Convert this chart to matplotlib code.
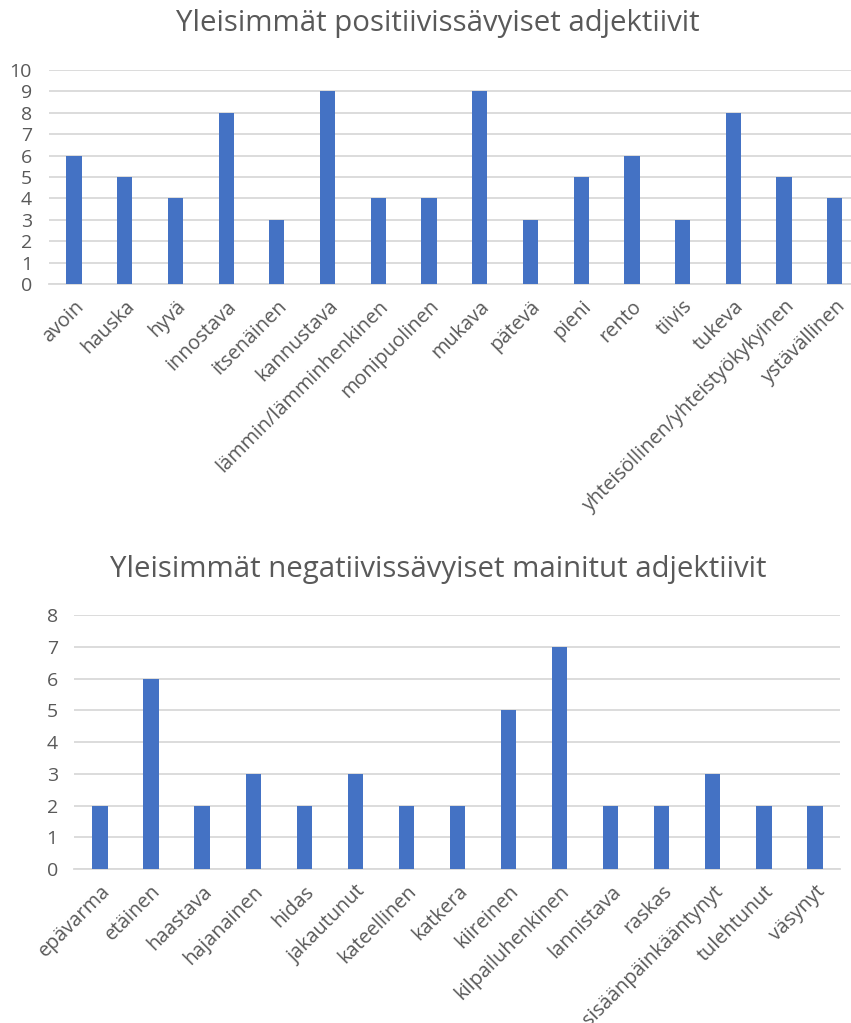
import matplotlib.pyplot as plt
import numpy as np

# Positive adjectives
pos_labels = ["avoin", "hauska", "hyvä", "innostava", "itsenäinen", "kannustava",
              "lämmin/lämminhenkinen", "monipuolinen", "mukava", "pätevä", "pieni",
              "rento", "tiivis", "tukeva", "yhteisöllinen/yhteistyökykyinen", "ystävällinen"]
pos_values = [6, 5, 4, 8, 3, 9, 4, 4, 9, 3, 5, 6, 3, 8, 5, 4]

# Negative adjectives
neg_labels = ["epävarma", "etäinen", "haastava", "hajanainen", "hidas", "jakautunut",
              "kateellinen", "katkera", "kiireinen", "kilpailuhenkinen", "lannistava",
              "raskas", "sisäänpäinkääntynyt", "tulehtunut", "väsynyt"]
neg_values = [2, 6, 2, 3, 2, 3, 2, 2, 5, 7, 2, 2, 3, 2, 2]

plt.rcParams['font.family'] = ['Open Sans', 'DejaVu Sans']

BAR = "#4472C4"
GRID = "#D9D9D9"
TEXT = "#595959"

fig = plt.figure(figsize=(8.51, 10.23), dpi=100)


def draw(ax, labels, values, ymax, title, title_y):
    x = np.arange(len(labels))
    ax.bar(x, values, width=0.3, color=BAR, zorder=3)
    ax.set_xlim(-0.5, len(labels) - 0.5)
    ax.set_ylim(0, ymax)
    ax.set_yticks(range(0, ymax + 1))
    ax.yaxis.grid(True, color=GRID, linewidth=1.3, zorder=0)
    ax.set_axisbelow(True)
    for s in ["top", "right", "left"]:
        ax.spines[s].set_visible(False)
    ax.spines["bottom"].set_color(GRID)
    ax.spines["bottom"].set_linewidth(1.3)
    ax.tick_params(axis="both", length=0, colors=TEXT, labelsize=14)
    ax.tick_params(axis="y", pad=12)
    ax.set_xticks(x)
    ax.set_xticklabels(labels, rotation=45, ha="right", rotation_mode="anchor")
    ax.tick_params(axis="x", pad=9, labelsize=14.3)
    fig.text(0.515, title_y, title, ha="center", va="center", fontsize=21.2, color=TEXT)


ax1 = fig.add_axes([0.0571, 0.7224, 0.9537, 0.2092])
draw(ax1, pos_labels, pos_values, 10, "Yleisimmät positiivissävyiset adjektiivit", 0.977)

ax2 = fig.add_axes([0.0875, 0.1505, 0.9001, 0.2483])
draw(ax2, neg_labels, neg_values, 8, "Yleisimmät negatiivissävyiset mainitut adjektiivit", 0.443)

fig.savefig("out.png", dpi=100)
